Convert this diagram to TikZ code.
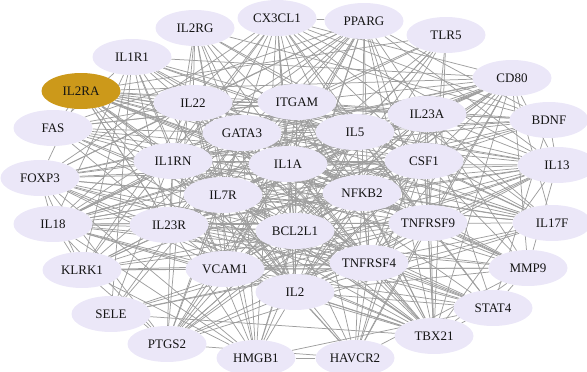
\documentclass[tikz,border=0pt]{standalone}
\usepackage{fontspec}
\setmainfont{Liberation Serif}
\usetikzlibrary{shapes.geometric,backgrounds}
\definecolor{genefill}{RGB}{235,231,248}
\definecolor{hubfill}{RGB}{204,153,26}
\definecolor{linkgray}{RGB}{158,158,158}
\definecolor{labelink}{RGB}{20,20,20}
% name / x / y of every gene node (pixel grid, y grows downward)
\def\genepos{IL2RG/195/28, CX3CL1/277/18, PPARG/364/21, TLR5/446/35,
  CD80/512/78, BDNF/549/120, IL13/557/165, IL17F/552/223, MMP9/528/268,
  STAT4/493/308, TBX21/434/336, HAVCR2/355/358, HMGB1/256/358,
  PTGS2/167/344, SELE/111/314, KLRK1/82/270, IL18/53/224, FOXP3/40/178,
  FAS/53/128, IL1R1/132/57,
  IL22/193/103, ITGAM/297/102, IL23A/427/114, GATA3/242/133, IL5/355/132,
  IL1RN/173/161, IL1A/288/164, CSF1/424/161, IL7R/223/195, NFKB2/362/193,
  IL23R/169/225, BCL2L1/295/231, TNFRSF9/428/223, VCAM1/225/269,
  TNFRSF4/369/263, IL2/295/292}
% name / connectivity weight used to pick the interaction lines
\def\genewt{IL2RG/0.55, CX3CL1/0.55, PPARG/0.6, TLR5/0.3, CD80/0.8,
  BDNF/0.45, IL13/0.7, IL17F/0.6, MMP9/0.6, STAT4/0.5, TBX21/0.8,
  HAVCR2/0.5, HMGB1/0.6, PTGS2/0.7, SELE/0.4, KLRK1/0.5, IL18/0.7,
  FOXP3/0.7, FAS/0.6, IL2RA/0.8, IL1R1/0.6,
  IL22/0.95, ITGAM/0.95, IL23A/0.95, GATA3/0.95, IL5/0.95, IL1RN/0.95,
  IL1A/1, CSF1/0.95, IL7R/0.95, NFKB2/0.95, IL23R/0.95, BCL2L1/0.95,
  TNFRSF9/0.95, VCAM1/0.95, TNFRSF4/0.95, IL2/1}
\begin{document}
\begin{tikzpicture}[x=1pt,y=-1pt,
  gene/.style={ellipse, fill=genefill, minimum width=79pt,
    minimum height=36pt, inner sep=0pt, text=labelink,
    font=\fontsize{13}{15}\selectfont},
  hub/.style={gene, fill=hubfill},
  link/.style={draw=linkgray, line width=0.75pt}]
\useasboundingbox (0,0) rectangle (587,372);

\foreach \n/\x/\y in \genepos {
  \node[gene] (\n) at (\x,\y) {\n};
}
\node[hub] (IL2RA) at (81,91) {IL2RA};

% interaction lines, kept behind the nodes
\begin{pgfonlayer}{background}
\pgfmathsetseed{11}
\foreach \a/\wa [count=\i] in \genewt {
  \foreach \b/\wb [count=\j] in \genewt {
    \ifnum\j>\i\relax
      \pgfmathtruncatemacro\keep{rnd<(\wa*\wb)}
      \ifnum\keep=1 \draw[link] (\a) -- (\b);\fi
    \fi
  }
}
\end{pgfonlayer}
\end{tikzpicture}
\end{document}
